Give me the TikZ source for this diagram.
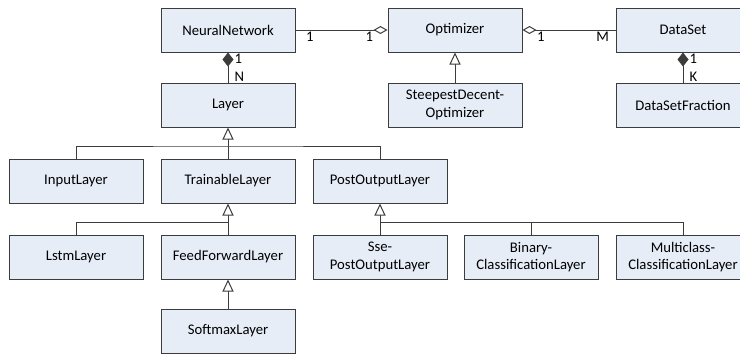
\documentclass[tikz,border=0pt]{standalone}
\usepackage{fontspec}
\setmainfont{Carlito}
\usetikzlibrary{arrows.meta,positioning}
\definecolor{boxfill}{RGB}{231,237,247}
\definecolor{boxline}{RGB}{60,60,60}
\begin{document}
\begin{tikzpicture}[x=1pt,y=-1pt]
\tikzstyle{cls}=[draw=boxline, fill=boxfill, line width=1pt, minimum width=134pt, minimum height=44pt, align=center, font=\fontsize{14.7}{17.7}\selectfont]
\tikzstyle{link}=[draw=boxline, line width=1pt]
\tikzstyle{gen}=[link, -{Triangle[open,length=12pt,width=11pt,fill=white]}]
\tikzstyle{agg}=[link, -{Diamond[open,length=14pt,width=8pt,fill=white]}]
\tikzstyle{comp}=[link, -{Diamond[length=14pt,width=11pt]}]
\tikzstyle{mult}=[font=\fontsize{14.7}{17.7}\selectfont, inner sep=2pt]
\useasboundingbox (0,0) rectangle (740,354);
    \node [cls] (nn) at (228,30) {NeuralNetwork};
    \node [cls] (opt) at (455,30) {Optimizer};
    \node [cls] (ds) at (683,30) {DataSet};
    \node [cls] (lay) at (228,105) {Layer};
    \node [cls] (sdo) at (455,105) {SteepestDecent-\\Optimizer};
    \node [cls] (dsf) at (683,105) {DataSetFraction};
    \node [cls] (inp) at (76,181) {InputLayer};
    \node [cls] (trn) at (228,181) {TrainableLayer};
    \node [cls] (pol) at (380,181) {PostOutputLayer};
    \node [cls] (lstm) at (76,257) {LstmLayer};
    \node [cls] (ff) at (228,257) {FeedForwardLayer};
    \node [cls] (sse) at (380,257) {Sse-\\PostOutputLayer};
    \node [cls] (bin) at (531,257) {Binary-\\ClassificationLayer};
    \node [cls] (mc) at (683,257) {Multiclass-\\ClassificationLayer};
    \node [cls] (soft) at (228,331) {SoftmaxLayer};
    % bus lines of the inheritance trees
    \coordinate (b1) at (228,146);
    \coordinate (b2) at (228,222);
    \coordinate (b3) at (380,222);
    \draw [link] (inp.north) |- (b1) -| (pol.north);
    \draw [link] (lstm.north) |- (b2);
    \draw [link] (pol.south |- b3) -| (mc.north);
    \draw [link] (bin.north) |- (b3);
    \draw [gen] (trn) -- (lay);
    \draw [gen] (ff) -- (trn);
    \draw [gen] (sse) -- (pol);
    \draw [gen] (soft) -- (ff);
    \draw [gen] (sdo) -- (opt);
    % associations
    \draw [agg] (nn) -- (opt)
        node [mult, pos=0, below right, xshift=8pt] {1}
        node [mult, pos=1, below left, xshift=-12pt] {1};
    \draw [agg] (ds) -- (opt)
        node [mult, pos=0, below left, xshift=-4pt] {M}
        node [mult, pos=1, below right, xshift=12pt] {1};
    \draw [comp] (lay) -- (nn)
        node [mult, pos=1, below right, xshift=4pt, yshift=1pt] {1}
        node [mult, pos=0, above right, xshift=4pt, yshift=-1pt] {N};
    \draw [comp] (dsf) -- (ds)
        node [mult, pos=1, below right, xshift=4pt, yshift=1pt] {1}
        node [mult, pos=0, above right, xshift=4pt, yshift=-1pt] {K};
\end{tikzpicture}
\end{document}
